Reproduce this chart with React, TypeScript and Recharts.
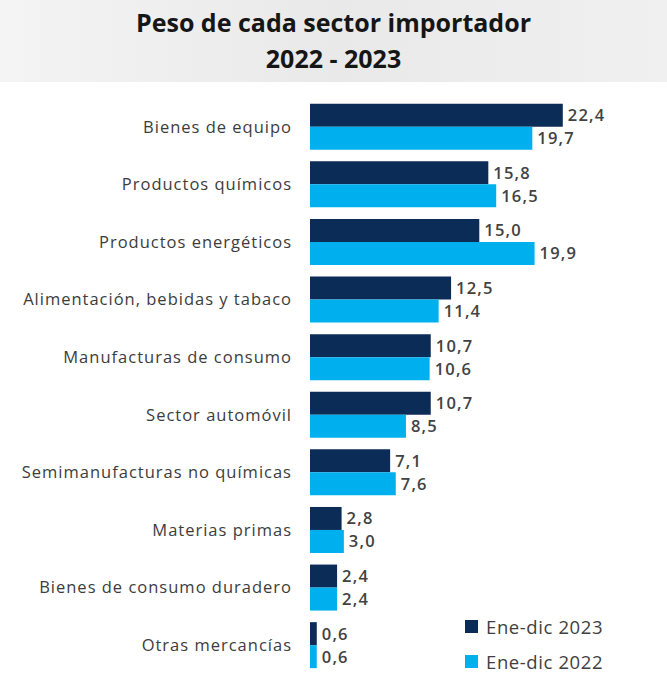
import React from 'react';
import { BarChart, Bar, XAxis, YAxis, LabelList } from 'recharts';

const categories = [
  'Bienes de equipo',
  'Productos químicos',
  'Productos energéticos',
  'Alimentación, bebidas y tabaco',
  'Manufacturas de consumo',
  'Sector automóvil',
  'Semimanufacturas no químicas',
  'Materias primas',
  'Bienes de consumo duradero',
  'Otras mercancías',
];
const values2023 = [22.4, 15.8, 15.0, 12.5, 10.7, 10.7, 7.1, 2.8, 2.4, 0.6];
const values2022 = [19.7, 16.5, 19.9, 11.4, 10.6, 8.5, 7.6, 3.0, 2.4, 0.6];
const seriesNames = ['Ene-dic 2023', 'Ene-dic 2022'];

const DARK = '#0b2c56';
const LIGHT = '#00b0ee';
const FONT = '"Open Sans", "Noto Sans", sans-serif';

const data = categories.map((name, i) => ({
  name,
  y2023: values2023[i],
  y2022: values2022[i],
}));

const fmt = (v: any) => Number(v).toFixed(1).replace('.', ',');

const labelStyle = { fontSize: 16.5, fontWeight: 600, fill: '#424242', fontFamily: FONT, letterSpacing: 1.2 };

const LegendBox = () => (
  <div style={{ fontFamily: FONT, fontSize: 18.5, color: '#404040', letterSpacing: 0.6 }}>
    {[DARK, LIGHT].map((c, i) => (
      <div key={i} style={{ display: 'flex', alignItems: 'center', height: 35 }}>
        <span style={{ width: 13, height: 13, background: c, marginRight: 8, display: 'inline-block' }} />
        {seriesNames[i]}
      </div>
    ))}
  </div>
);

export default function App() {
  return (
    <div style={{ position: 'absolute', left: 0, top: 0, width: 667, height: 684, background: '#fff', overflow: 'hidden' }}>
      <div
        style={{
          position: 'absolute', left: 0, top: 0, width: 667, height: 78,
          background: 'linear-gradient(90deg, #f4f4f4 0%, #e9e9e9 50%, #f0f0f0 100%)',
          fontFamily: FONT, fontWeight: 700, fontSize: 25, color: '#161616',
          textAlign: 'center', lineHeight: '36px', paddingTop: 4,
        }}
      >
        <div>Peso de cada sector importador</div>
        <div>2022 - 2023</div>
      </div>
      <div style={{ position: 'absolute', left: 0, top: 84 }}>
        <BarChart
          width={667}
          height={600}
          data={data}
          layout="vertical"
          margin={{ top: 14, right: 41, bottom: 10, left: 0 }}
          barCategoryGap="10%"
          barGap={0}
        >
          <XAxis type="number" domain={[0, 28]} hide />
          <YAxis
            type="category"
            dataKey="name"
            width={310}
            axisLine={false}
            tickLine={false}
            tickMargin={12}
            interval={0}
            tick={{ fontSize: 16.5, fill: '#3c3c3c', fontFamily: FONT, letterSpacing: 1 }}
          />
          <Bar dataKey="y2023" name={seriesNames[0]} fill={DARK} isAnimationActive={false}>
            <LabelList dataKey="y2023" position="right" offset={5} formatter={fmt} style={labelStyle} />
          </Bar>
          <Bar dataKey="y2022" name={seriesNames[1]} fill={LIGHT} isAnimationActive={false}>
            <LabelList dataKey="y2022" position="right" offset={5} formatter={fmt} style={labelStyle} />
          </Bar>
        </BarChart>
      </div>
      <div style={{ position: 'absolute', left: 465, top: 609 }}>
        <LegendBox />
      </div>
    </div>
  );
}
